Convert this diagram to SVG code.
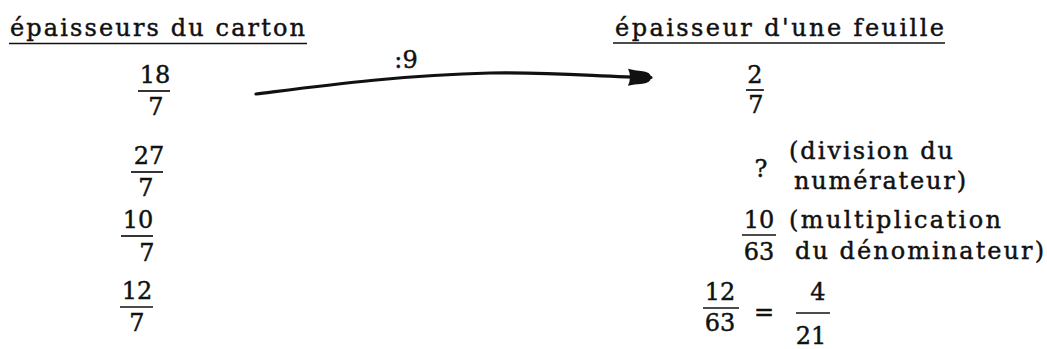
<svg xmlns="http://www.w3.org/2000/svg" width="1047" height="349" viewBox="0 0 1047 349" font-family="'DejaVu Serif', 'Liberation Serif', serif">
<style>
text{font-family:"DejaVu Serif","Liberation Serif",serif;font-size:24px;fill:#111;stroke:#111;stroke-width:0.45}
.n{text-anchor:middle;font-size:24px}
.bar{stroke:#111;stroke-width:1.7}
.conn{fill:none;stroke:#111;stroke-width:3.2;stroke-linecap:round}
</style>
<defs>
<marker id="ah" markerWidth="26" markerHeight="20" refX="24" refY="10" orient="auto" markerUnits="userSpaceOnUse">
<path d="M1,1.5 Q8,3.5 14,3.5 Q24,4 24,10 Q24,16 14,16.5 Q8,16.5 1,18.5 Q5,10 1,1.5 Z" fill="#111"/>
</marker>
</defs>
<g id="header-left">
<text x="10" y="36" textLength="295" lengthAdjust="spacing">épaisseurs du carton</text>
<line class="bar" x1="9" y1="43.5" x2="307" y2="43.5"/>
</g>
<g id="header-right">
<text x="615" y="36" textLength="329" lengthAdjust="spacing">épaisseur d'une feuille</text>
<line class="bar" x1="613" y1="43" x2="945" y2="43"/>
</g>
<g id="f-18-7">
<text class="n" x="155" y="83">18</text><line class="bar" x1="138" y1="91" x2="170" y2="91"/><text class="n" x="156" y="115">7</text>
</g>
<g id="f-27-7">
<text class="n" x="149" y="164">27</text><line class="bar" x1="131" y1="172" x2="163" y2="172"/><text class="n" x="146" y="196">7</text>
</g>
<g id="f-10-7">
<text class="n" x="138" y="228">10</text><line class="bar" x1="121" y1="236" x2="153" y2="236"/><text class="n" x="147" y="261">7</text>
</g>
<g id="f-12-7">
<text class="n" x="137" y="299">12</text><line class="bar" x1="120" y1="307" x2="153" y2="307"/><text class="n" x="137" y="331">7</text>
</g>
<g id="f-2-7">
<text class="n" x="755" y="83">2</text><line class="bar" x1="746" y1="90" x2="764" y2="90"/><text class="n" x="756" y="113">7</text>
</g>
<g id="q">
<text class="n" x="761" y="177">?</text>
<text x="789" y="159" textLength="164" lengthAdjust="spacing">(division du</text>
<text x="794" y="189" textLength="172" lengthAdjust="spacing">numérateur)</text>
</g>
<g id="f-10-63">
<text class="n" x="759" y="228">10</text><line class="bar" x1="742" y1="235" x2="776" y2="235"/><text class="n" x="759" y="260">63</text>
<text x="789" y="228" textLength="212" lengthAdjust="spacing">(multiplication</text>
<text x="795" y="259" textLength="249" lengthAdjust="spacing">du dénominateur)</text>
</g>
<g id="f-12-63">
<text class="n" x="720" y="300">12</text><line class="bar" x1="703" y1="308" x2="739" y2="308"/><text class="n" x="720" y="331">63</text>
<text class="n" x="764" y="320">=</text>
<text class="n" x="818" y="300">4</text><line class="bar" x1="796" y1="313" x2="830" y2="313"/><text class="n" x="811" y="344">21</text>
</g>
<g id="connectors">
<path class="conn" d="M256,94 C320,86 400,75 490,73 C560,72 600,77 651,77.5" marker-end="url(#ah)"/>
<text class="n" x="406" y="68">:9</text>
</g>
</svg>
